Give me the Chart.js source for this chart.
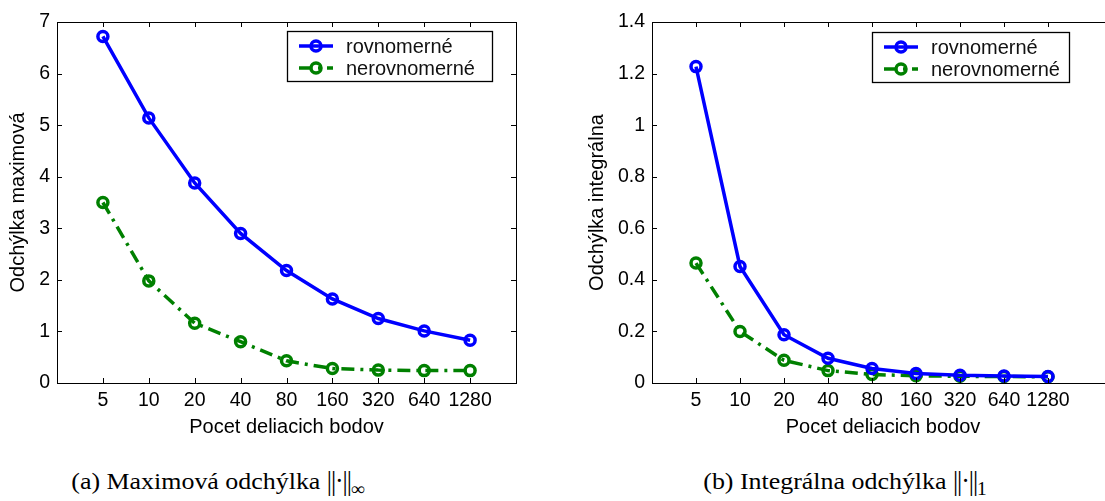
<!DOCTYPE html>
<html>
<head>
<meta charset="utf-8">
<script src="https://cdn.jsdelivr.net/npm/chart.js@4/dist/chart.umd.min.js"></script>
<style>
  html, body { margin: 0; padding: 0; background: #fff; overflow: hidden; width: 1105px; height: 501px; }
  .wrap { position: absolute; top: 0; }
  .caption { position: absolute; top: 468px; font-family: 'Liberation Serif', 'DejaVu Serif', serif; font-size: 24px; color: #000; white-space: nowrap; transform: translateX(-50%) scaleX(1.08); }
  .caption .norm { display: inline-block; letter-spacing: -1px; transform: scaleY(1.15); }
  .caption sub { font-size: 18px; }
</style>
</head>
<body>
<div class="wrap" style="left:0;"><canvas id="chart-max" width="530" height="450"></canvas></div>
<div class="wrap" style="left:585px;"><canvas id="chart-int" width="540" height="450"></canvas></div>
<div class="caption" style="left:218px;">(a) Maximová odchýlka <span class="norm">||·||</span><sub>∞</sub></div>
<div class="caption" style="left:845px;">(b) Integrálna odchýlka <span class="norm">||·||</span><sub>1</sub></div>
<script>
Chart.defaults.font.family = "'Liberation Sans', Arial, sans-serif";
Chart.defaults.color = '#000';

const xLabels = ['5', '10', '20', '40', '80', '160', '320', '640', '1280'];
const seriesNames = ['rovnomerné', 'nerovnomerné'];

// maximova odchylka
const maxUniform = [6.72, 5.14, 3.88, 2.90, 2.18, 1.63, 1.25, 1.01, 0.83];
const maxNonUniform = [3.50, 1.98, 1.16, 0.80, 0.43, 0.28, 0.25, 0.24, 0.24];

// integralna odchylka
const intUniform = [1.227, 0.452, 0.187, 0.096, 0.056, 0.037, 0.030, 0.027, 0.025];
const intNonUniform = [0.465, 0.200, 0.088, 0.048, 0.033, 0.028, 0.026, 0.025, 0.024];

const BLUE = '#0000ff';
const GREEN = '#008000';

// MATLAB-like box with inward tick marks
const boxTicks = {
  id: 'boxTicks',
  afterDraw(chart) {
    const { ctx, chartArea: a, scales } = chart;
    const len = 5;
    ctx.save();
    ctx.strokeStyle = '#000';
    ctx.lineWidth = 1;
    ctx.beginPath();
    scales.x.ticks.forEach(t => {
      const px = Math.round(scales.x.getPixelForValue(t.value)) + 0.5;
      ctx.moveTo(px, a.bottom); ctx.lineTo(px, a.bottom - len);
      ctx.moveTo(px, a.top); ctx.lineTo(px, a.top + len);
    });
    scales.y.ticks.forEach(t => {
      const py = Math.round(scales.y.getPixelForValue(t.value)) + 0.5;
      ctx.moveTo(a.left, py); ctx.lineTo(a.left + len, py);
      ctx.moveTo(a.right, py); ctx.lineTo(a.right - len, py);
    });
    ctx.stroke();
    ctx.strokeRect(Math.round(a.left) + 0.5, Math.round(a.top) + 0.5, Math.round(a.right - a.left), Math.round(a.bottom - a.top));
    ctx.restore();
  }
};

// legend box inside the axes
const legendBox = {
  id: 'legendBox',
  afterDraw(chart, args, opts) {
    const { ctx, chartArea: a } = chart;
    const x = a.left + opts.dx, y = a.top + opts.dy;
    ctx.save();
    ctx.fillStyle = '#fff';
    ctx.fillRect(x, y, opts.w, 50);
    ctx.strokeStyle = '#000';
    ctx.lineWidth = 1.3;
    ctx.strokeRect(x + 0.5, y + 0.5, opts.w, 50);
    chart.data.datasets.forEach((ds, i) => {
      const cy = y + 15 + i * 22;
      ctx.strokeStyle = ds.borderColor;
      ctx.lineWidth = ds.borderWidth;
      ctx.setLineDash(ds.borderDash || []);
      ctx.beginPath();
      ctx.moveTo(x + 12, cy); ctx.lineTo(x + 46, cy);
      ctx.stroke();
      ctx.setLineDash([]);
      ctx.lineWidth = ds.pointBorderWidth;
      ctx.beginPath();
      ctx.arc(x + 29, cy, ds.pointRadius, 0, Math.PI * 2);
      ctx.stroke();
      ctx.fillStyle = '#111';
      ctx.font = "20px 'Liberation Sans', Arial, sans-serif";
      ctx.textBaseline = 'middle';
      ctx.fillText(ds.label, x + 59, cy + 1);
    });
    ctx.restore();
  }
};

function series(label, values, color, dash) {
  return {
    label,
    data: values.map((v, i) => ({ x: i, y: v })),
    borderColor: color,
    borderWidth: 3.5,
    borderDash: dash,
    borderCapStyle: 'butt',
    pointRadius: 5,
    pointBorderWidth: 3.5,
    pointBorderColor: color,
    pointBackgroundColor: 'transparent',
    tension: 0
  };
}

function makeChart(canvasId, cfg) {
  new Chart(document.getElementById(canvasId), {
    type: 'line',
    data: {
      datasets: [
        series(seriesNames[0], cfg.uniform, BLUE, []),
        series(seriesNames[1], cfg.nonUniform, GREEN, [13, 6, 3, 6])
      ]
    },
    options: {
      responsive: false,
      animation: false,
      devicePixelRatio: 1,
      layout: { padding: { top: 22, right: cfg.padRight, left: 0, bottom: 0 } },
      plugins: {
        legend: { display: false },
        tooltip: { enabled: false },
        legendBox: cfg.legend
      },
      scales: {
        x: {
          type: 'linear',
          min: -1,
          max: cfg.xMax,
          afterBuildTicks: s => { s.ticks = xLabels.map((_, i) => ({ value: i })); },
          afterFit: s => { s.height = 67; },
          ticks: { font: { size: 19.5 }, padding: 6, maxRotation: 0, autoSkip: false, callback: v => xLabels[v] ?? '' },
          grid: { display: false, drawTicks: false },
          border: { display: false },
          title: { display: true, text: 'Pocet deliacich bodov', font: { size: 20 }, padding: { top: 0, bottom: 11 } }
        },
        y: {
          min: 0,
          max: cfg.yMax,
          afterFit: s => { s.width = cfg.yWidth; },
          ticks: { stepSize: cfg.yStep, font: { size: 19.5 }, padding: 7, callback: v => String(+v.toFixed(1)) },
          grid: { display: false, drawTicks: false },
          border: { display: false },
          title: { display: true, text: cfg.yTitle, font: { size: 20 }, padding: { top: cfg.yTitlePad, bottom: 0 } }
        }
      }
    },
    plugins: [boxTicks, legendBox]
  });
}

makeChart('chart-max', {
  uniform: maxUniform, nonUniform: maxNonUniform,
  yMax: 7, yStep: 1, yTitle: 'Odchýlka maximová',
  yWidth: 57, yTitlePad: 6, padRight: 14, xMax: 9,
  legend: { dx: 230, dy: 9, w: 205 }
});

makeChart('chart-int', {
  uniform: intUniform, nonUniform: intNonUniform,
  yMax: 1.4, yStep: 0.2, yTitle: 'Odchýlka integrálna',
  yWidth: 67, yTitlePad: 0, padRight: 11, xMax: 9.5,
  legend: { dx: 220, dy: 10, w: 197 }
});
</script>
</body>
</html>
